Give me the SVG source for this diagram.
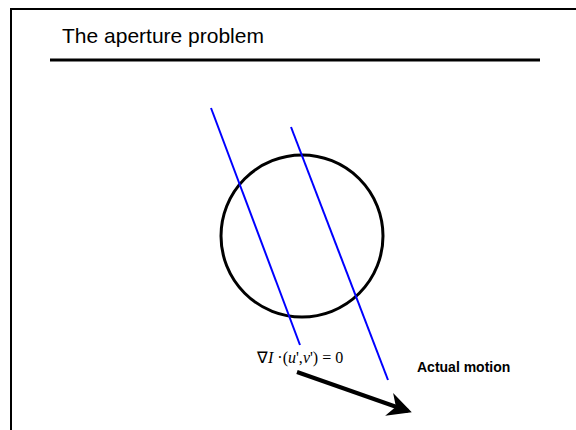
<svg xmlns="http://www.w3.org/2000/svg" width="576" height="430" viewBox="0 0 576 430">
<style>
.title{font-family:"Liberation Sans",Arial,sans-serif;font-size:21px;fill:#000}
.label{font-family:"Liberation Sans",Arial,sans-serif;font-size:14px;font-weight:bold;fill:#000}
.eq{font-family:"Liberation Serif","Times New Roman",serif;font-size:16px;fill:#000}
.blue{stroke:#0000ff;stroke-width:2;fill:none}
</style>
<defs>
<marker id="ah" markerWidth="6" markerHeight="6" refX="5" refY="3" orient="auto" markerUnits="strokeWidth">
<path d="M0,0 L6,3 L0,6 L1.8,3 Z" fill="#000"/>
</marker>
</defs>
<rect x="0" y="0" width="576" height="430" fill="#fff"/>
<path d="M11,432 L11,9 L578,9" fill="none" stroke="#000" stroke-width="2"/>
<g id="title">
<text class="title" x="62" y="43">The aperture problem</text>
<line x1="50" y1="60" x2="540" y2="60" stroke="#000" stroke-width="3"/>
</g>
<g id="aperture">
<circle cx="302" cy="236" r="81" fill="none" stroke="#000" stroke-width="3"/>
</g>
<g id="lines">
<line class="blue" x1="211" y1="108" x2="300" y2="345"/>
<line class="blue" x1="291" y1="127" x2="388" y2="380"/>
</g>
<g id="equation">
<text class="eq" x="257" y="363">∇<tspan font-style="italic">I</tspan> ·(<tspan font-style="italic">u</tspan>',<tspan font-style="italic">v</tspan>') = 0</text>
</g>
<g id="connectors">
<line x1="297" y1="372" x2="408" y2="411" stroke="#000" stroke-width="4" marker-end="url(#ah)"/>
</g>
<g id="motion">
<text class="label" x="417" y="372">Actual motion</text>
</g>
</svg>
